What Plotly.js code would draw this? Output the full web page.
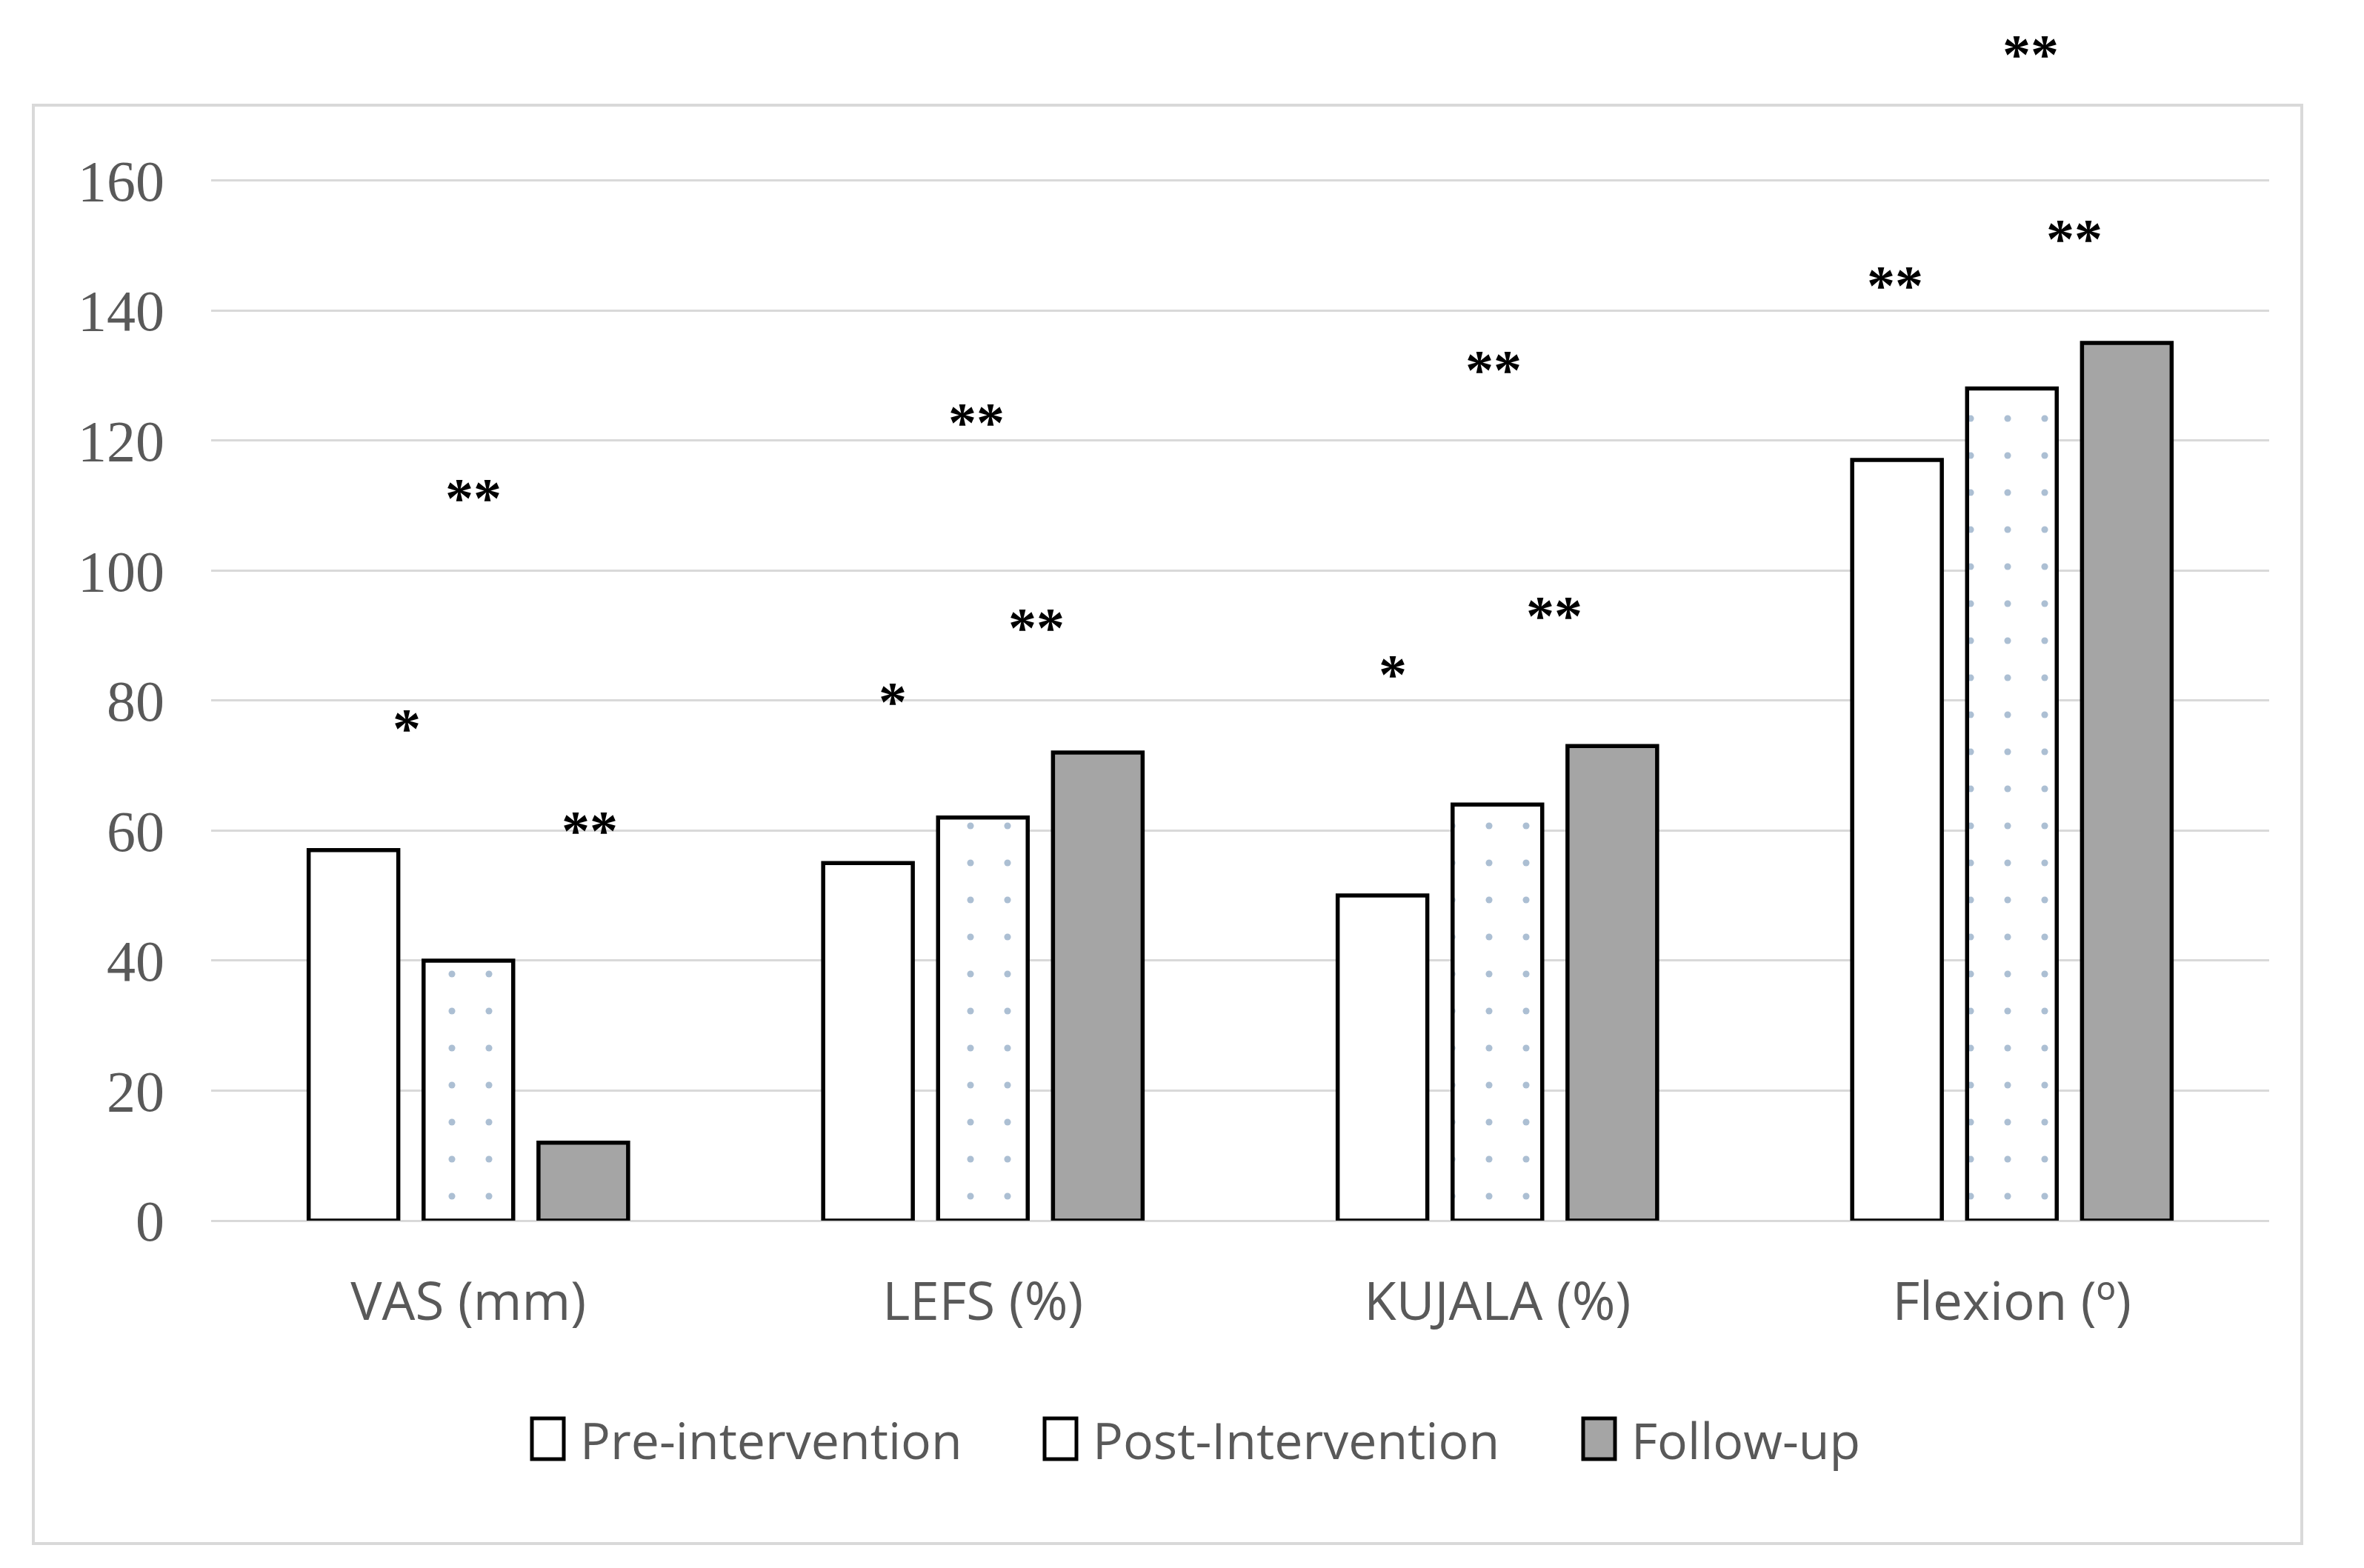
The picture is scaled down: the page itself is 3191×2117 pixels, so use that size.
<!DOCTYPE html>
<html>
<head>
<meta charset="utf-8">
<script src="https://cdn.plot.ly/plotly-3.0.1.min.js"></script>
<style>html,body{margin:0;padding:0;background:#fff;}#chart{width:3191px;height:2117px;}</style>
</head>
<body>
<div id="chart"></div>
<script>
// ---- data ----
var categories = ["VAS (mm)", "LEFS (%)", "KUJALA (%)", "Flexion (º)"];
var seriesNames = ["Pre-intervention", "Post-Intervention", "Follow-up"];
var preValues = [57, 55, 50, 117];
var postValues = [40, 62, 64, 128];
var followValues = [12, 72, 73, 135];
var yTicks = [0, 20, 40, 60, 80, 100, 120, 140, 160];
// significance markers: category index, offset within group, y value, label
var sigCat = [0, 0, 0, 1, 1, 1, 2, 2, 2, 3, 3, 3];
var sigOffset = [-0.12, 0.01, 0.236, -0.175, -0.013, 0.104, -0.204, -0.007, 0.11, -0.227, 0.037, 0.122];
var sigY = [76.5, 112, 60.8, 80.7, 123.6, 92, 84.9, 131.7, 93.9, 144.7, 180.2, 151.9];
var sigLabel = ["*", "**", "**", "*", "**", "**", "*", "**", "**", "**", "**", "**"];

var W = 3191, H = 2117;
var mL = 285, mR = 128, mT = 240, mB = 469;
var yMax = 160.4;
var plotW = W - mL - mR, plotH = H - mT - mB;
function px(x) { return (x - mL) / plotW; }
function py(y) { return (H - mB - y) / plotH; }

var lineStyle = {color: "#000000", width: 5.5};
var traces = [
  {type: "bar", name: seriesNames[0], x: categories, y: preValues,
   marker: {color: "#ffffff", line: lineStyle}, showlegend: false},
  {type: "bar", name: seriesNames[1], x: categories, y: postValues,
   marker: {color: "#ffffff", line: lineStyle,
            pattern: {shape: ".", fgcolor: "#5a7fa8", bgcolor: "#ffffff", size: 50, solidity: 0.026, fillmode: "overlay"}},
   showlegend: false},
  {type: "bar", name: seriesNames[2], x: categories, y: followValues,
   marker: {color: "#a5a5a5", line: lineStyle}, showlegend: false}
];

var annotations = [];
for (var i = 0; i < sigLabel.length; i++) {
  annotations.push({
    xref: "x", yref: "paper", x: sigCat[i] + sigOffset[i], y: sigY[i] / yMax,
    text: "<b>" + sigLabel[i] + "</b>", showarrow: false, xanchor: "center", yanchor: "middle", yshift: -7,
    font: {family: "Liberation Serif", size: 76, color: "#000000"}
  });
}

// manual legend (boxes + labels)
var legendFill = ["#ffffff", "#ffffff", "#a5a5a5"];
var legendBoxX = [718, 1410, 2137];
var shapes = [];
for (var j = 0; j < 3; j++) {
  shapes.push({type: "rect", xref: "paper", yref: "paper",
    x0: px(legendBoxX[j]), x1: px(legendBoxX[j] + 43), y0: py(1915), y1: py(1970),
    fillcolor: legendFill[j], line: {color: "#000000", width: 5}});
  annotations.push({xref: "paper", yref: "paper", x: px(legendBoxX[j] + 63), y: py(1943),
    text: seriesNames[j], showarrow: false, xanchor: "left", yanchor: "middle",
    font: {family: "Open Sans", size: 68, color: "#595959"}});
}
// outer border
shapes.push({type: "rect", xref: "paper", yref: "paper",
  x0: px(45), x1: px(3107), y0: py(2084), y1: py(142),
  line: {color: "#d9d9d9", width: 4}, fillcolor: "rgba(0,0,0,0)", layer: "below"});

var layout = {
  width: W, height: H,
  margin: {l: mL, r: mR, t: mT, b: mB, pad: 0},
  paper_bgcolor: "#ffffff", plot_bgcolor: "#ffffff",
  barmode: "group", bargap: 0.33, bargroupgap: 0.22,
  showlegend: false,
  xaxis: {type: "category", showgrid: false, showline: false, zeroline: false, ticks: "",
          tickfont: {family: "Open Sans", size: 71, color: "#595959"}, ticklabelstandoff: 62},
  yaxis: {range: [0, yMax], tickvals: yTicks, showgrid: true, gridcolor: "#d9d9d9", gridwidth: 3,
          zeroline: true, zerolinecolor: "#d9d9d9", zerolinewidth: 3, showline: false, ticks: "",
          tickfont: {family: "Liberation Serif", size: 78, color: "#595959"}, ticklabelstandoff: 62},
  annotations: annotations,
  shapes: shapes
};

Plotly.newPlot("chart", traces, layout, {displayModeBar: false, staticPlot: true});
</script>
</body>
</html>
